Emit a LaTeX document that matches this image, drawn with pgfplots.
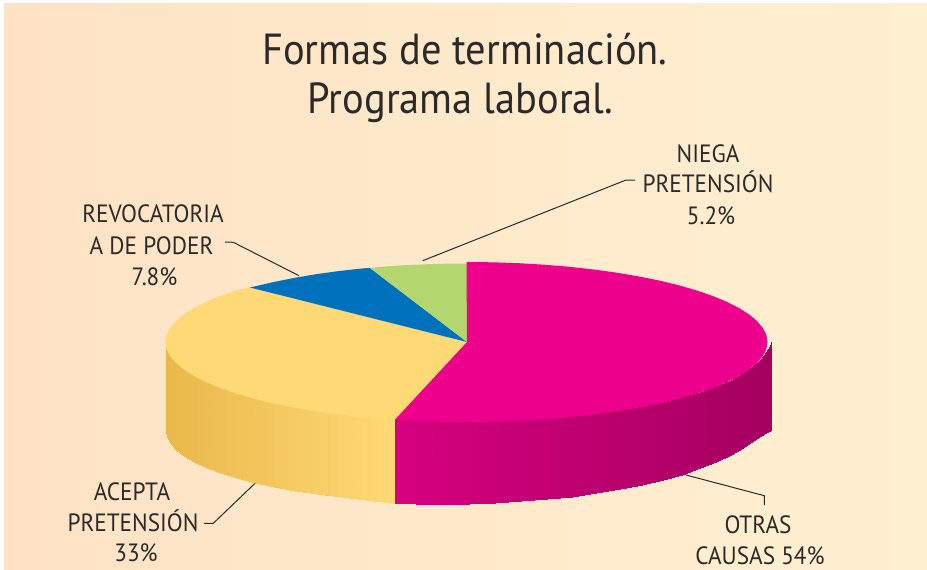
\documentclass[border=0pt]{standalone}
\usepackage{pgfplots}
\pgfplotsset{compat=1.18}
\usepackage{fontspec}
\setmainfont[FakeStretch=0.93]{PT Sans}
\definecolor{ink}{HTML}{2B2A29}
\definecolor{pinktop}{HTML}{EC008C}
\definecolor{yellowtop}{HTML}{FFD976}
\definecolor{bluetop}{HTML}{0071BC}
\definecolor{greentop}{HTML}{B3D66F}
\definecolor{bgl}{HTML}{FEE2C4}
\definecolor{bgr}{HTML}{FFF0D2}
\newcommand{\lab}[3]{\node[anchor=base,text=ink,inner sep=0pt,font=\fontsize{25}{25}\selectfont] at (axis cs:#1,#2) {#3};}
\newcommand{\ttl}[3]{\node[anchor=base,text=ink,inner sep=0pt,font=\fontsize{43.5}{43.5}\selectfont] at (axis cs:#1,#2) {#3};}
\begin{document}
\begin{tikzpicture}
\begin{axis}[
  scale only axis, width=927pt, height=570pt,
  xmin=0, xmax=927, ymin=0, ymax=570, y dir=reverse,
  hide axis, clip=false,
  colormap={pie}{rgb255(166)=(233,184,74); rgb255(395)=(255,217,118); rgb255(396)=(214,0,127); rgb255(771)=(165,0,96)},
  point meta min=166, point meta max=771,
]
\fill[white] (axis cs:0,0) rectangle (axis cs:927,570);
\fill[left color=bgl,right color=bgr] (axis cs:4,3) rectangle (axis cs:927,570);
% yellow side
\addplot[surf, shader=interp, mesh/cols=2, point meta=explicit] coordinates {
(166,345)[166] (166,433)[166]
(167.2,345)[167] (167.2,437.4)[167]
(170.6,354)[171] (170.6,443.7)[171]
(176.3,361)[176] (176.3,449.9)[176]
(184.2,368)[184] (184.2,456)[184]
(194.3,374.5)[194] (194.3,461.9)[194]
(206.5,381)[207] (206.5,467.5)[207]
(220.7,387)[221] (220.7,472.9)[221]
(236.8,392.5)[237] (236.8,477.9)[237]
(254.6,398)[255] (254.6,482.6)[255]
(274.1,402.5)[274] (274.1,486.9)[274]
(295,406.5)[295] (295,490.8)[295]
(317.2,410.5)[317] (317.2,494.2)[317]
(340.7,413.5)[341] (340.7,497.2)[341]
(365,416)[365] (365,500)[365]
(390.2,418)[390] (390.2,502.5)[390]
(395,418.5)[395] (395,503.3)[395]
};
% pink side
\addplot[surf, shader=interp, mesh/cols=2, point meta=explicit] coordinates {
(395,418.5)[396] (395,503.3)[396]
(416,419)[416] (416,503.6)[416]
(442.1,420)[442] (442.1,504)[442]
(468.5,420)[468] (468.5,503.8)[468]
(494.9,420)[495] (494.9,502.6)[495]
(521,419)[521] (521,501.3)[521]
(546.8,417.5)[547] (546.8,499.3)[547]
(572,415.5)[572] (572,497)[572]
(596.3,413)[596] (596.3,493.3)[596]
(619.8,409.5)[620] (619.8,489.3)[620]
(642,406)[642] (642,484.5)[642]
(662.9,401.5)[663] (662.9,479.5)[663]
(682.4,397)[682] (682.4,474.5)[682]
(700.2,391.5)[700] (700.2,467.7)[700]
(716.3,386)[716] (716.3,461.5)[716]
(730.5,380)[731] (730.5,454.5)[731]
(742.7,373)[743] (742.7,447.5)[743]
(752.8,366)[753] (752.8,441.3)[753]
(760.7,359)[761] (760.7,436.3)[761]
(766.4,352)[766] (766.4,433)[766]
(769.8,346)[770] (769.8,430.5)[770]
(771,342)[771] (771,430)[771]
};
% top faces
\addplot[fill=yellowtop, draw=none] coordinates {
(467,342)(395,419.6)(388.6,419.3)(363.6,417.2)(339.3,414.5)(316,411.3)(293.8,407.5)(273,403.3)(253.7,398.6)(235.9,393.4)(219.9,387.9)(205.8,382)(193.7,375.8)(183.7,369.4)(175.8,362.7)(170.1,355.9)(166.6,349)(165.5,342)(166.6,335)(170.1,328.1)(175.8,321.3)(183.7,314.6)(193.7,308.2)(205.8,302)(219.9,296.1)(235.9,290.6)(250,287.5)
} -- cycle;
\addplot[fill=bluetop, draw=none] coordinates {
(467,342)(250,287.5)(273,282.2)(293.8,278)(316,274.2)(339.3,271)(363.6,268.3)(370,268)
} -- cycle;
\addplot[fill=greentop, draw=none] coordinates {
(467,342)(370,268)(388.6,266.2)(414.2,264.7)(440.3,263.8)(467,263.5)
} -- cycle;
\addplot[fill=pinktop, draw=none] coordinates {
(467,342)(466.5,262)(492.7,262.3)(518.8,263.2)(544.4,264.7)(569.4,266.8)(593.7,269.5)(617,272.7)(639.2,276.5)(660,280.7)(679.3,285.4)(697.1,290.6)(713.1,296.1)(727.2,302)(739.3,308.2)(749.3,314.6)(757.2,321.3)(762.9,328.1)(766.4,335)(767.5,342)(766.4,349)(762.9,355.9)(757.2,362.7)(749.3,369.4)(739.3,375.8)(727.2,382)(713.1,387.9)(697.1,393.4)(679.3,398.6)(660,403.3)(639.2,407.5)(617,411.3)(593.7,414.5)(569.4,417.2)(544.4,419.3)(518.8,420.8)(492.7,421.7)(466.5,422)(440.3,421.7)(414.2,420.8)(395,419.6)
} -- cycle;
% leader lines
\addplot[ink, line width=1pt] coordinates {(225,242)(233.3,242.3)(299,275.7)};
\addplot[ink, line width=1pt] coordinates {(635,180)(626,180)(422.7,260.7)};
\addplot[ink, line width=1pt] coordinates {(204,523.3)(213.3,523.3)(255,483.3)};
\addplot[ink, line width=1pt] coordinates {(686,475)(764.3,495.7)(764.3,505)};
% text
\ttl{465}{64}{Formas de terminación.}
\ttl{460.5}{113}{Programa laboral.}
\lab{153}{222.7}{REVOCATORIA}
\lab{151.5}{254}{A DE PODER}
\lab{154.5}{285}{7.8\%}
\lab{708}{162}{NIEGA}
\lab{708}{192.7}{PRETENSIÓN}
\lab{711}{224}{5.2\%}
\lab{132}{500}{ACEPTA}
\lab{133}{531}{PRETENSIÓN}
\lab{136}{561.7}{33\%}
\lab{758}{533}{OTRAS}
\lab{760}{564}{CAUSAS 54\%}
\end{axis}
\end{tikzpicture}
\end{document}
